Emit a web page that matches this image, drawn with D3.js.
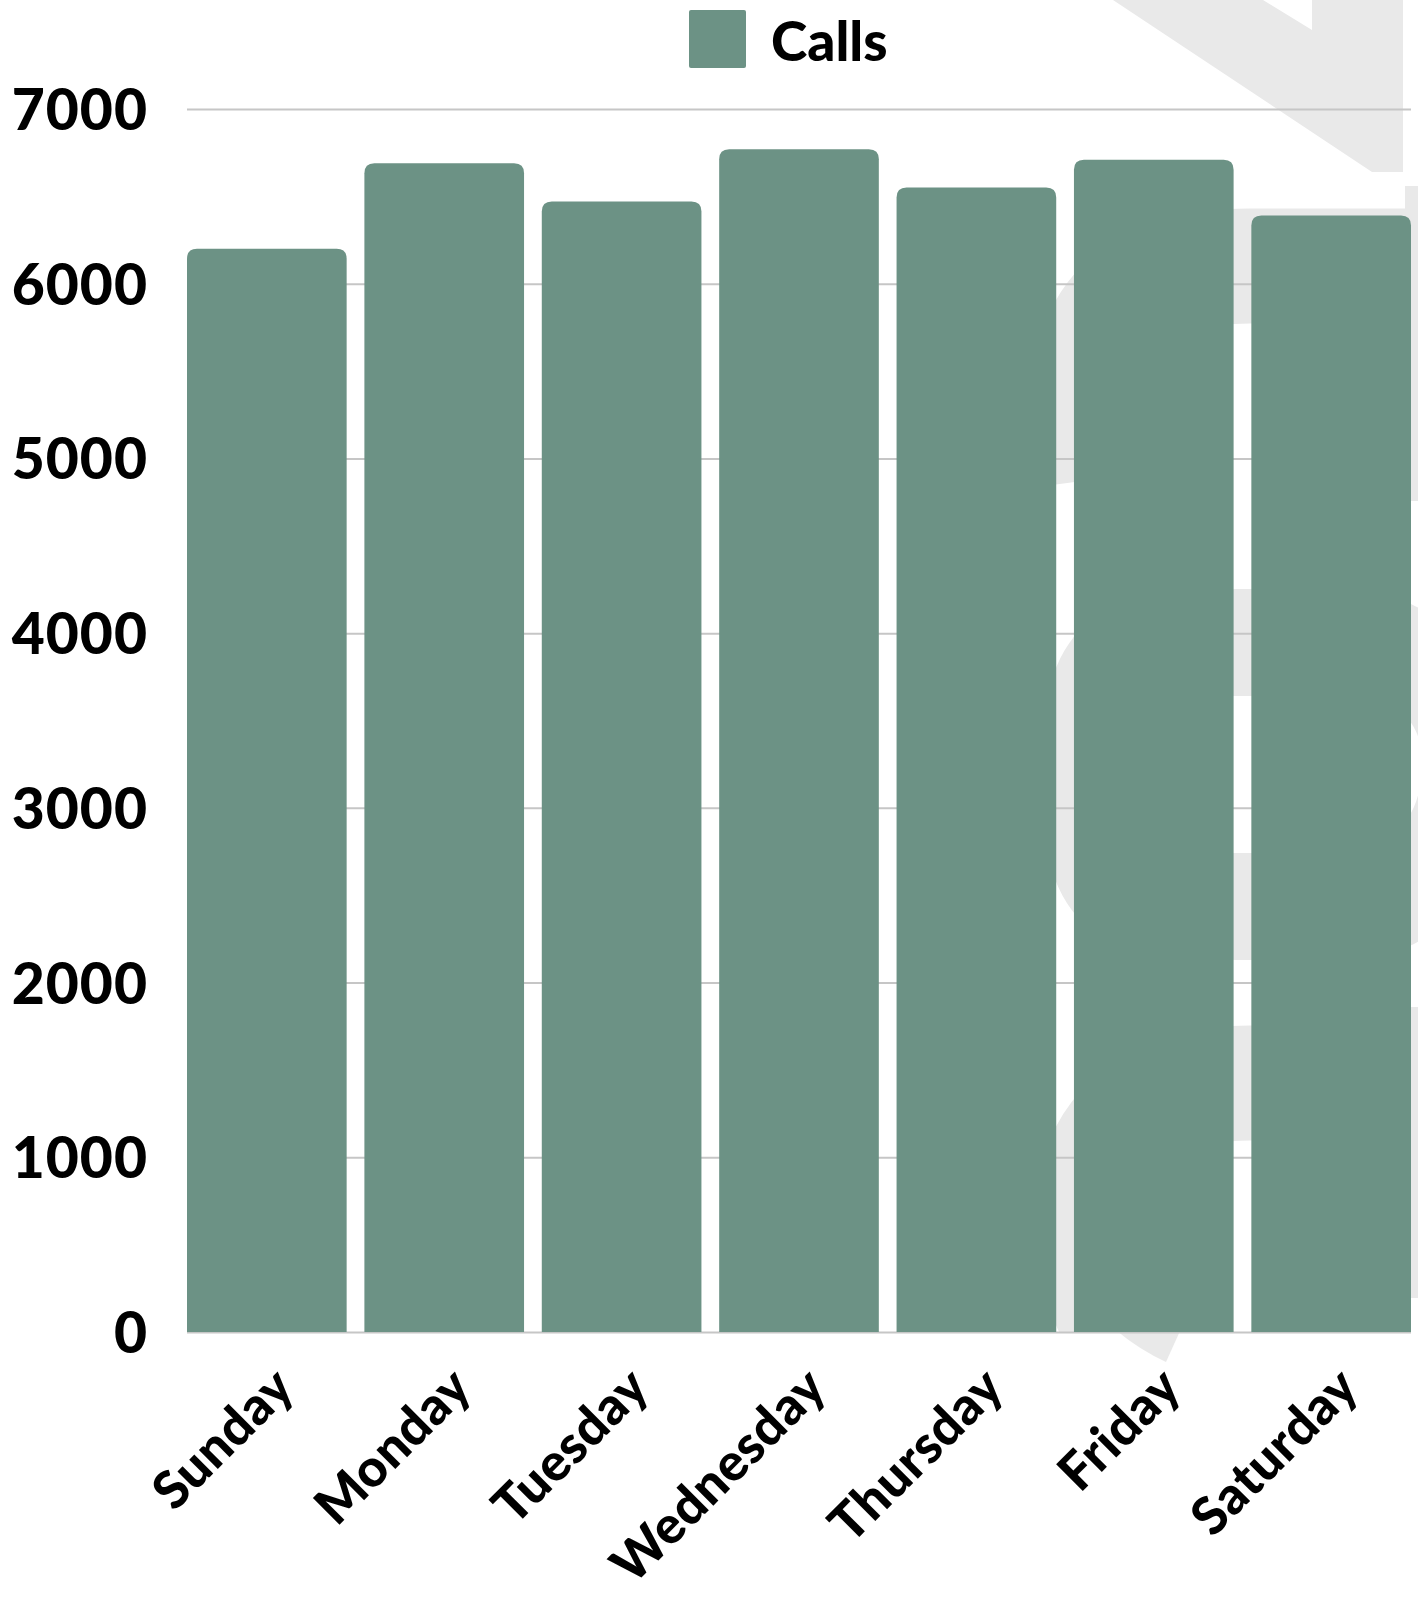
<!DOCTYPE html>
<html>
<head>
<meta charset="utf-8">
<script src="https://cdn.jsdelivr.net/npm/d3@7"></script>
<style>
  html, body { margin: 0; padding: 0; background: #ffffff; }
  svg { display: block; }
  text { font-family: Lato, "Open Sans", sans-serif; font-weight: 900; fill: #000; }
</style>
</head>
<body>
<svg id="chart" width="1418" height="1600"></svg>
<script>
// ---- data ----
const categories = ["Sunday", "Monday", "Tuesday", "Wednesday", "Thursday", "Friday", "Saturday"];
const calls = [6200, 6690, 6470, 6770, 6550, 6710, 6390];
const seriesName = "Calls";
const yTicks = [0, 1000, 2000, 3000, 4000, 5000, 6000, 7000];

// ---- layout ----
const plotLeft = 187, plotRight = 1411, plotTop = 109, plotBottom = 1332;
const barColor = "#6c9285";
const wmColor = "#e9e9e9";

const svg = d3.select("#chart");

const x = d3.scaleBand().domain(categories).range([plotLeft, plotRight]).paddingInner(0.1).paddingOuter(0);
const y = d3.scaleLinear().domain([0, 7000]).range([plotBottom, plotTop]);

// ---- watermark (background decoration) ----
const defs = svg.append("defs");
defs.append("clipPath").attr("id", "wmclip")
  .append("rect").attr("x", 0).attr("y", 0).attr("width", 1418).attr("height", plotBottom);

const wm = svg.append("g").attr("class", "watermark");
wm.append("path")
  .attr("d", "M1113,0 L1263,0 L1312,30 L1312,0 L1403,0 L1403,172 L1372,172 Z")
  .attr("fill", wmColor);
const wmc = wm.append("g").attr("clip-path", "url(#wmclip)");
wmc.append("path")
  .attr("d", "M1090,480 C1070,330 1120,266 1250,266 L1430,266")
  .attr("fill", "none").attr("stroke", wmColor).attr("stroke-width", 115);
wmc.append("rect").attr("x", 1405).attr("y", 186).attr("width", 20).attr("height", 315).attr("fill", wmColor);
wmc.append("path")
  .attr("d", "M1040,775 C1040,600 1120,589 1250,589 L1330,589 C1470,589 1480,680 1480,775 C1480,870 1470,960 1330,960 L1250,960 C1120,960 1040,950 1040,775 Z " +
             "M1110,775 C1110,700 1160,696 1250,696 L1330,696 C1400,696 1422,720 1422,764 C1422,810 1400,853 1330,853 L1250,853 C1160,853 1110,850 1110,775 Z")
  .attr("fill", wmColor).attr("fill-rule", "evenodd");
wmc.append("path")
  .attr("d", "M1130,1340 C1060,1240 1075,1083 1250,1083 L1430,1083")
  .attr("fill", "none").attr("stroke", wmColor).attr("stroke-width", 115);
wmc.append("rect").attr("x", 1405).attr("y", 1007).attr("width", 20).attr("height", 291).attr("fill", wmColor);
wm.append("path")
  .attr("d", "M1117,1331 Q1140,1350 1166,1362 L1180,1331 Z")
  .attr("fill", wmColor);

// ---- gridlines ----
const grid = svg.append("g")
  .attr("transform", `translate(${plotLeft},0)`)
  .call(d3.axisLeft(y).tickValues(yTicks).tickSize(-(plotRight - plotLeft)).tickFormat(""));
grid.select(".domain").remove();
grid.selectAll(".tick line").attr("stroke", "#c6c6c6").attr("stroke-width", 2);

// ---- bars (rounded top corners) ----
const r = 10;
function barPath(d, i) {
  const x0 = x(categories[i]), w = x.bandwidth();
  const y0 = y(d), y1 = y(0);
  return `M${x0},${y1} L${x0},${y0 + r} Q${x0},${y0} ${x0 + r},${y0} L${x0 + w - r},${y0} Q${x0 + w},${y0} ${x0 + w},${y0 + r} L${x0 + w},${y1} Z`;
}
svg.append("g").selectAll("path")
  .data(calls)
  .join("path")
  .attr("d", (d, i) => barPath(d, i))
  .attr("fill", barColor);

// ---- y axis labels ----
const yAxis = svg.append("g")
  .attr("transform", `translate(${plotLeft},0)`)
  .call(d3.axisLeft(y).tickValues(yTicks).tickSize(0).tickPadding(plotLeft - 148).tickFormat(d3.format("d")));
yAxis.select(".domain").remove();
yAxis.selectAll("text")
  .attr("font-size", 57).attr("font-family", "Lato, sans-serif").attr("font-weight", 900)
  .attr("letter-spacing", 1)
  .attr("fill", "#000").attr("dy", "0.36em");

// ---- x axis labels ----
const xAxis = svg.append("g")
  .attr("transform", `translate(0,${plotBottom})`)
  .call(d3.axisBottom(x).tickSize(0).tickPadding(0));
xAxis.select(".domain").remove();
xAxis.selectAll("text")
  .attr("font-size", 52).attr("font-family", "Lato, sans-serif").attr("font-weight", 900)
  .attr("letter-spacing", 0.5)
  .attr("fill", "#000")
  .attr("text-anchor", "end")
  .attr("y", 0).attr("dy", 0)
  .attr("transform", "translate(30,58) rotate(-45)");

// ---- legend ----
const legend = svg.append("g");
legend.append("rect").attr("x", 689).attr("y", 10).attr("width", 57).attr("height", 58).attr("rx", 2).attr("fill", barColor);
legend.append("text").attr("x", 771).attr("y", 61).attr("font-size", 55).text(seriesName);
</script>
</body>
</html>
